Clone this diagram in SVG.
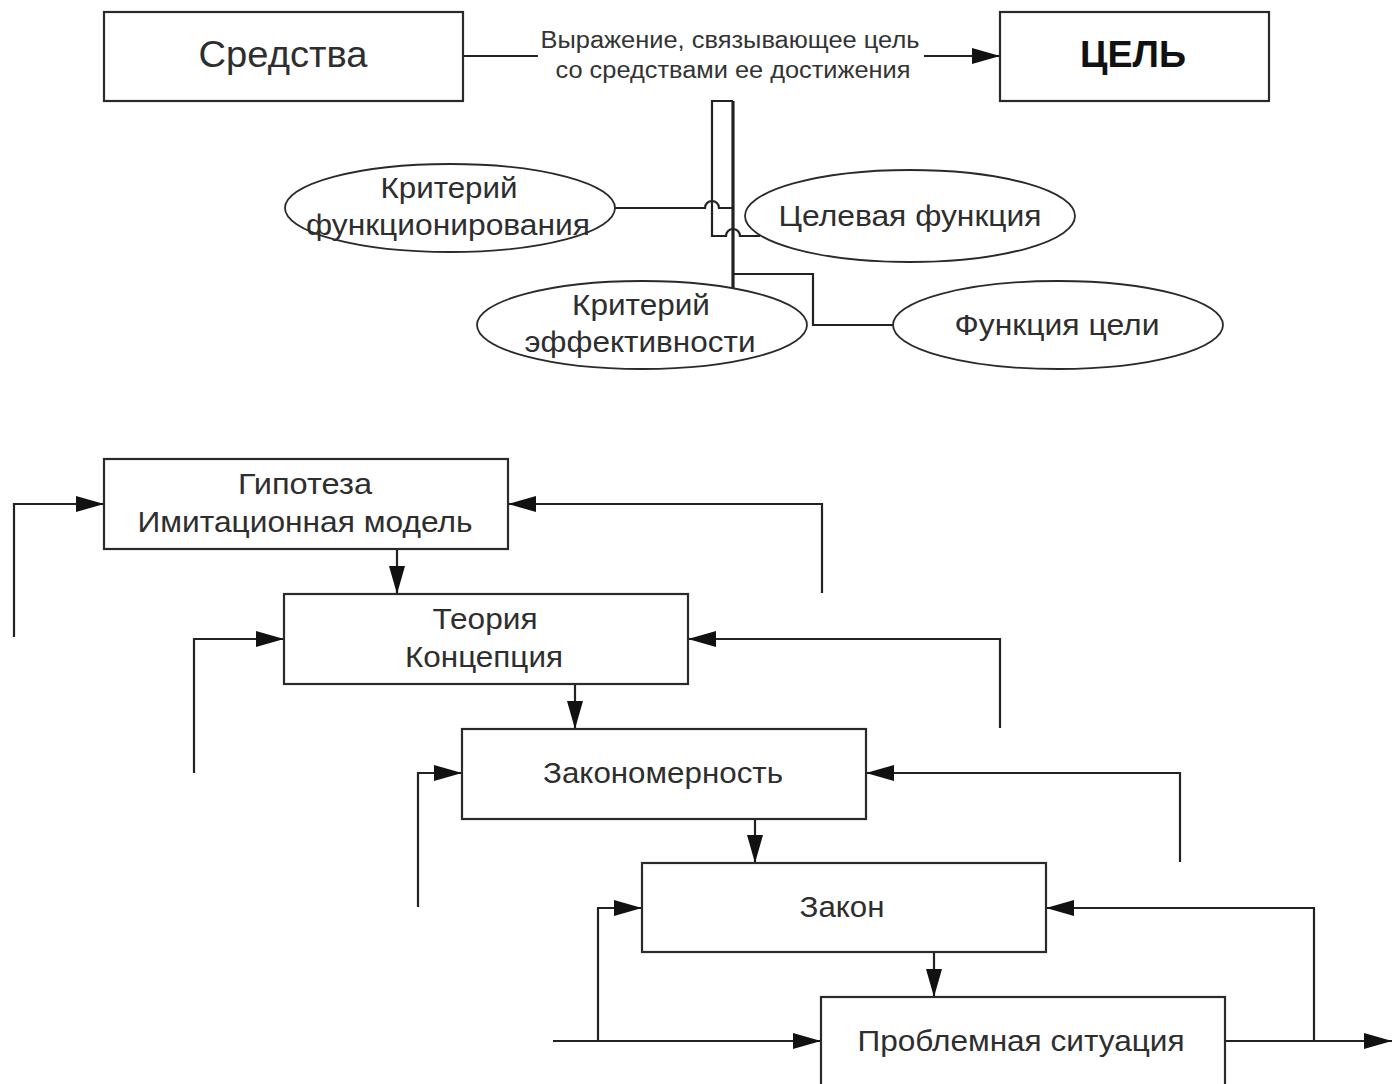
<svg xmlns="http://www.w3.org/2000/svg" width="1393" height="1084" viewBox="0 0 1393 1084">
<style>
.box{fill:#fff;stroke:#2a2a2a;stroke-width:2.2}
.ell{fill:#fff;stroke:#2a2a2a;stroke-width:1.8}
.ln{fill:none;stroke:#222;stroke-width:2.2}
.t{font-family:"Liberation Sans",Arial,sans-serif;font-size:29px;fill:#2e2e2e;text-anchor:middle}
.lbl{font-family:"Liberation Sans",Arial,sans-serif;font-size:23px;fill:#333;text-anchor:middle}
</style>
<defs>
<marker id="ah" markerWidth="28" markerHeight="16" refX="28" refY="8" orient="auto" markerUnits="userSpaceOnUse"><path d="M0,0 L28,8 L0,16 Z" fill="#111"/></marker>
</defs>
<rect width="1393" height="1084" fill="#fff"/>

<g id="connectors">
<path class="ln" d="M463,56 H538"/>
<path class="ln" d="M924,56 H1000" marker-end="url(#ah)"/>
<path class="ln" d="M615,208 H705 A7,7 0 0 1 719,208 H733"/>
<path class="ln" d="M733,101 H712 V236 H726 A7,7 0 0 1 740,236 H760"/>
<path class="ln" d="M733,101 V288" style="stroke-width:3.2"/>
<path class="ln" d="M733,274 H813 V325 H893"/>
<path class="ln" d="M397,549 V594" marker-end="url(#ah)"/>
<path class="ln" d="M575,684 V729" marker-end="url(#ah)"/>
<path class="ln" d="M755,819 V863" marker-end="url(#ah)"/>
<path class="ln" d="M934,952 V997" marker-end="url(#ah)"/>
<path class="ln" d="M14,637 V504 H104" marker-end="url(#ah)"/>
<path class="ln" d="M194,773 V639 H284" marker-end="url(#ah)"/>
<path class="ln" d="M418,907 V773 H462" marker-end="url(#ah)"/>
<path class="ln" d="M598,1041 V908 H642" marker-end="url(#ah)"/>
<path class="ln" d="M553,1041 H821" marker-end="url(#ah)"/>
<path class="ln" d="M822,593 V504 H508" marker-end="url(#ah)"/>
<path class="ln" d="M1000,728 V639 H688" marker-end="url(#ah)"/>
<path class="ln" d="M1180,862 V773 H866" marker-end="url(#ah)"/>
<path class="ln" d="M1314,1041 V908 H1046" marker-end="url(#ah)"/>
<path class="ln" d="M1225,1041 H1392" marker-end="url(#ah)"/>
<text class="lbl" x="730" y="48" textLength="379" lengthAdjust="spacingAndGlyphs">Выражение, связывающее цель</text>
<text class="lbl" x="733" y="78" textLength="355" lengthAdjust="spacingAndGlyphs">со средствами ее достижения</text>
</g>

<g id="sredstva">
<rect class="box" x="104" y="12" width="359" height="89"/>
<text class="t" x="283" y="67" style="font-size:36px" textLength="169" lengthAdjust="spacingAndGlyphs">Средства</text>
</g>
<g id="cel">
<rect class="box" x="1000" y="12" width="269" height="89"/>
<text class="t" x="1133" y="67" style="font-size:36px;font-weight:bold;fill:#111" textLength="106" lengthAdjust="spacingAndGlyphs">ЦЕЛЬ</text>
</g>

<g id="krit-funk">
<ellipse class="ell" cx="450" cy="208" rx="165" ry="44"/>
<text class="t" x="449" y="198" textLength="137" lengthAdjust="spacingAndGlyphs">Критерий</text>
<text class="t" x="448" y="235" textLength="284" lengthAdjust="spacingAndGlyphs">функционирования</text>
</g>
<g id="celevaya">
<ellipse class="ell" cx="910" cy="216" rx="165" ry="46"/>
<text class="t" x="910" y="226" textLength="263" lengthAdjust="spacingAndGlyphs">Целевая функция</text>
</g>
<g id="krit-eff">
<ellipse class="ell" cx="642" cy="325" rx="165" ry="44"/>
<text class="t" x="641" y="315" textLength="138" lengthAdjust="spacingAndGlyphs">Критерий</text>
<text class="t" x="640" y="352" textLength="231" lengthAdjust="spacingAndGlyphs">эффективности</text>
</g>
<g id="funk-celi">
<ellipse class="ell" cx="1058" cy="325" rx="165" ry="44"/>
<text class="t" x="1057" y="335" textLength="205" lengthAdjust="spacingAndGlyphs">Функция цели</text>
</g>

<g id="gipoteza">
<rect class="box" x="104" y="459" width="404" height="90"/>
<text class="t" x="305" y="494" textLength="134" lengthAdjust="spacingAndGlyphs">Гипотеза</text>
<text class="t" x="305" y="532" textLength="335" lengthAdjust="spacingAndGlyphs">Имитационная модель</text>
</g>
<g id="teoriya">
<rect class="box" x="284" y="594" width="404" height="90"/>
<text class="t" x="485" y="629" textLength="105" lengthAdjust="spacingAndGlyphs">Теория</text>
<text class="t" x="484" y="667" textLength="158" lengthAdjust="spacingAndGlyphs">Концепция</text>
</g>
<g id="zakonomernost">
<rect class="box" x="462" y="729" width="404" height="90"/>
<text class="t" x="663" y="783" textLength="240" lengthAdjust="spacingAndGlyphs">Закономерность</text>
</g>
<g id="zakon">
<rect class="box" x="642" y="863" width="404" height="89"/>
<text class="t" x="842" y="917" textLength="85" lengthAdjust="spacingAndGlyphs">Закон</text>
</g>
<g id="problem">
<rect class="box" x="821" y="997" width="404" height="95"/>
<text class="t" x="1021" y="1051" textLength="327" lengthAdjust="spacingAndGlyphs">Проблемная ситуация</text>
</g>
</svg>
